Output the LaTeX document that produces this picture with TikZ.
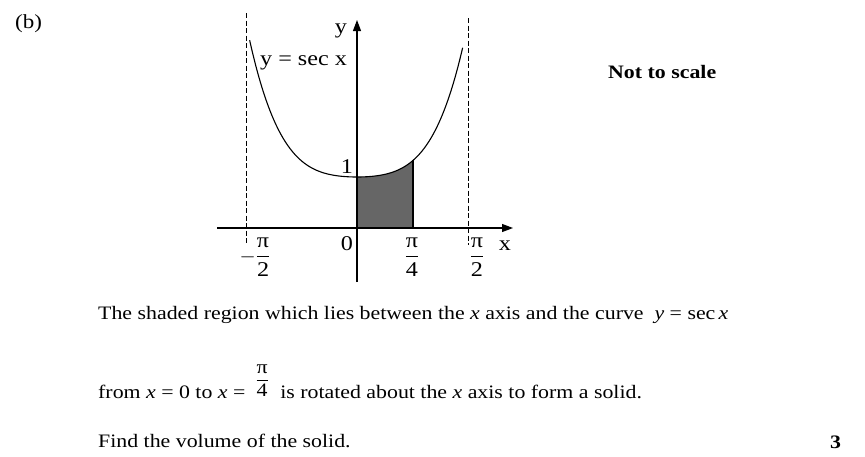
\documentclass[tikz,border=0pt]{standalone}
\usepackage{amsmath}
\usepackage{fontspec}
\setmainfont{Liberation Serif}[FakeStretch=1.15]
\usetikzlibrary{arrows.meta}

\newcommand{\sfr}[2]{\dfrac{\text{#1}}{\text{#2}}}

\begin{document}
\begin{tikzpicture}[x=1pt,y=-1pt,
  lbl/.style={inner sep=0pt, anchor=base, font=\fontsize{21}{25}\selectfont},
  txt/.style={inner sep=0pt, anchor=base west, font=\fontsize{19}{23}\selectfont},
  bold/.style={txt, font=\bfseries\fontsize{19}{23}\selectfont},
  axis/.style={line width=1.1pt, -{Triangle[length=11pt,width=8pt]}},
  asym/.style={line width=0.9pt, dash pattern=on 5pt off 2.5pt},
  curve/.style={line width=1.1pt},
  region/.style={fill=black!60}]
  \useasboundingbox (0,0) rectangle (865,456);

  % shaded region under the curve, 0 to pi/4
  \fill[region] (357,228) -- plot[domain=0:0.496, samples=20]
      ({357+113*\x},{177-36*\x*\x-128*\x*\x*\x*\x}) -- (413,228) -- cycle;
  \draw[curve] (413,228) -- (413,160.4);

  % asymptotes
  \coordinate (al) at (246,13);
  \coordinate (al') at (246,243);
  \coordinate (ar) at (468,18);
  \coordinate (ar') at (468,245);
  \draw[asym] (al) -- (al');
  \draw[asym] (ar) -- (ar');

  % y = sec x
  \draw[curve] plot[domain=-0.95:0.935, samples=90, smooth]
      ({357+113*\x},{177-36*\x*\x-128*\x*\x*\x*\x});

  % axes
  \coordinate (xl) at (217,228);
  \coordinate (xr) at (513,228);
  \coordinate (yb) at (357,282);
  \coordinate (yt) at (357,20);
  \draw[axis] (xl) -- (xr);
  \draw[axis] (yb) -- (yt);

  % labels
  \node[lbl] (ylab) at (341,33) {y};
  \node[lbl, anchor=base west] (eq) at (260,65) {y = sec x};
  \node[lbl] (one) at (347,173) {1};
  \node[lbl] (zero) at (347,250) {0};
  \node[lbl] (mhalf) at (255,262) {$-\sfr{π}{2}$};
  \node[lbl] (quart) at (412,262) {$\sfr{π}{4}$};
  \node[lbl] (half) at (477,262) {$\sfr{π}{2}$};
  \node[lbl] (xlab) at (505,250) {x};

  \node[txt, font=\fontsize{20}{24}\selectfont] (part) at (15,28) {(b)};
  \node[bold] (note) at (608,78) {Not to scale};

  \node[txt] (l1) at (98,319) {The shaded region which lies between
    the \textit{x} axis and the curve \ \textit{y} = sec\,\textit{x}};
  \node[txt] (l2) at (98,398) {from \textit{x} = 0 to \textit{x} =\hspace{10pt}%
    \raisebox{13pt}{$\sfr{π}{4}$}\hspace{6pt} is rotated about the
    \textit{x} axis to form a solid.};
  \node[txt] (l3) at (98,447) {Find the volume of the solid.};
  \node[bold] (mark) at (830,448) {3};
\end{tikzpicture}
\end{document}
